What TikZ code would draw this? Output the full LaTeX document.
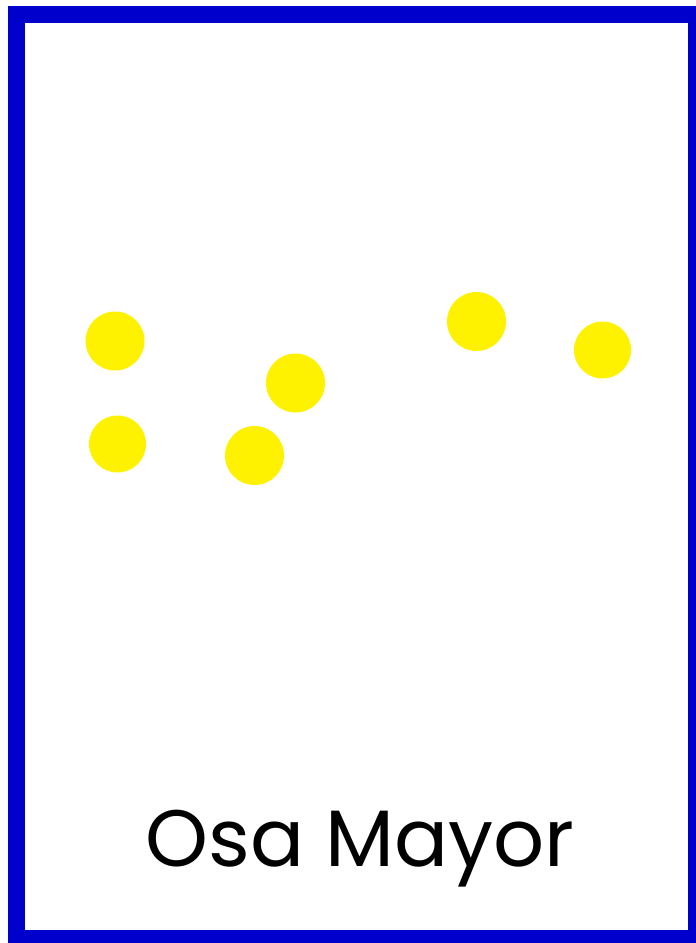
\documentclass[tikz,border=0pt]{standalone}
\usepackage{fontspec}
\setmainfont{Poppins}
\usepackage{xcolor}
\usetikzlibrary{positioning}
\definecolor{frameblue}{RGB}{0,0,204}
\definecolor{staryellow}{RGB}{255,242,0}

\begin{document}
\begin{tikzpicture}[x=1pt, y=-1pt,
    star/.style={circle, fill=staryellow, inner sep=0pt, minimum size=59pt},
    smallstar/.style={star, minimum size=57pt},
    title/.style={font=\fontsize{80}{88}\selectfont, inner sep=0pt, anchor=base}]

    \useasboundingbox (0,0) rectangle (696,943);
    \fill[white] (0,0) rectangle (696,943);
    \draw[line width=17pt, frameblue] (16.5,14.5) rectangle (696.5,938.5);

    % stars
    \node[star] (s1) at (115,341) {};
    \node[smallstar] (s2) at (117.5,444) {};
    \node[star] (s3) at (295.5,383) {};
    \node[star] (s4) at (254.5,455.5) {};
    \node[star] (s5) at (476.5,321.5) {};
    \node[smallstar] (s6) at (602.5,350) {};

    \node[title] (name) at (360,866) {Osa Mayor};
\end{tikzpicture}
\end{document}
